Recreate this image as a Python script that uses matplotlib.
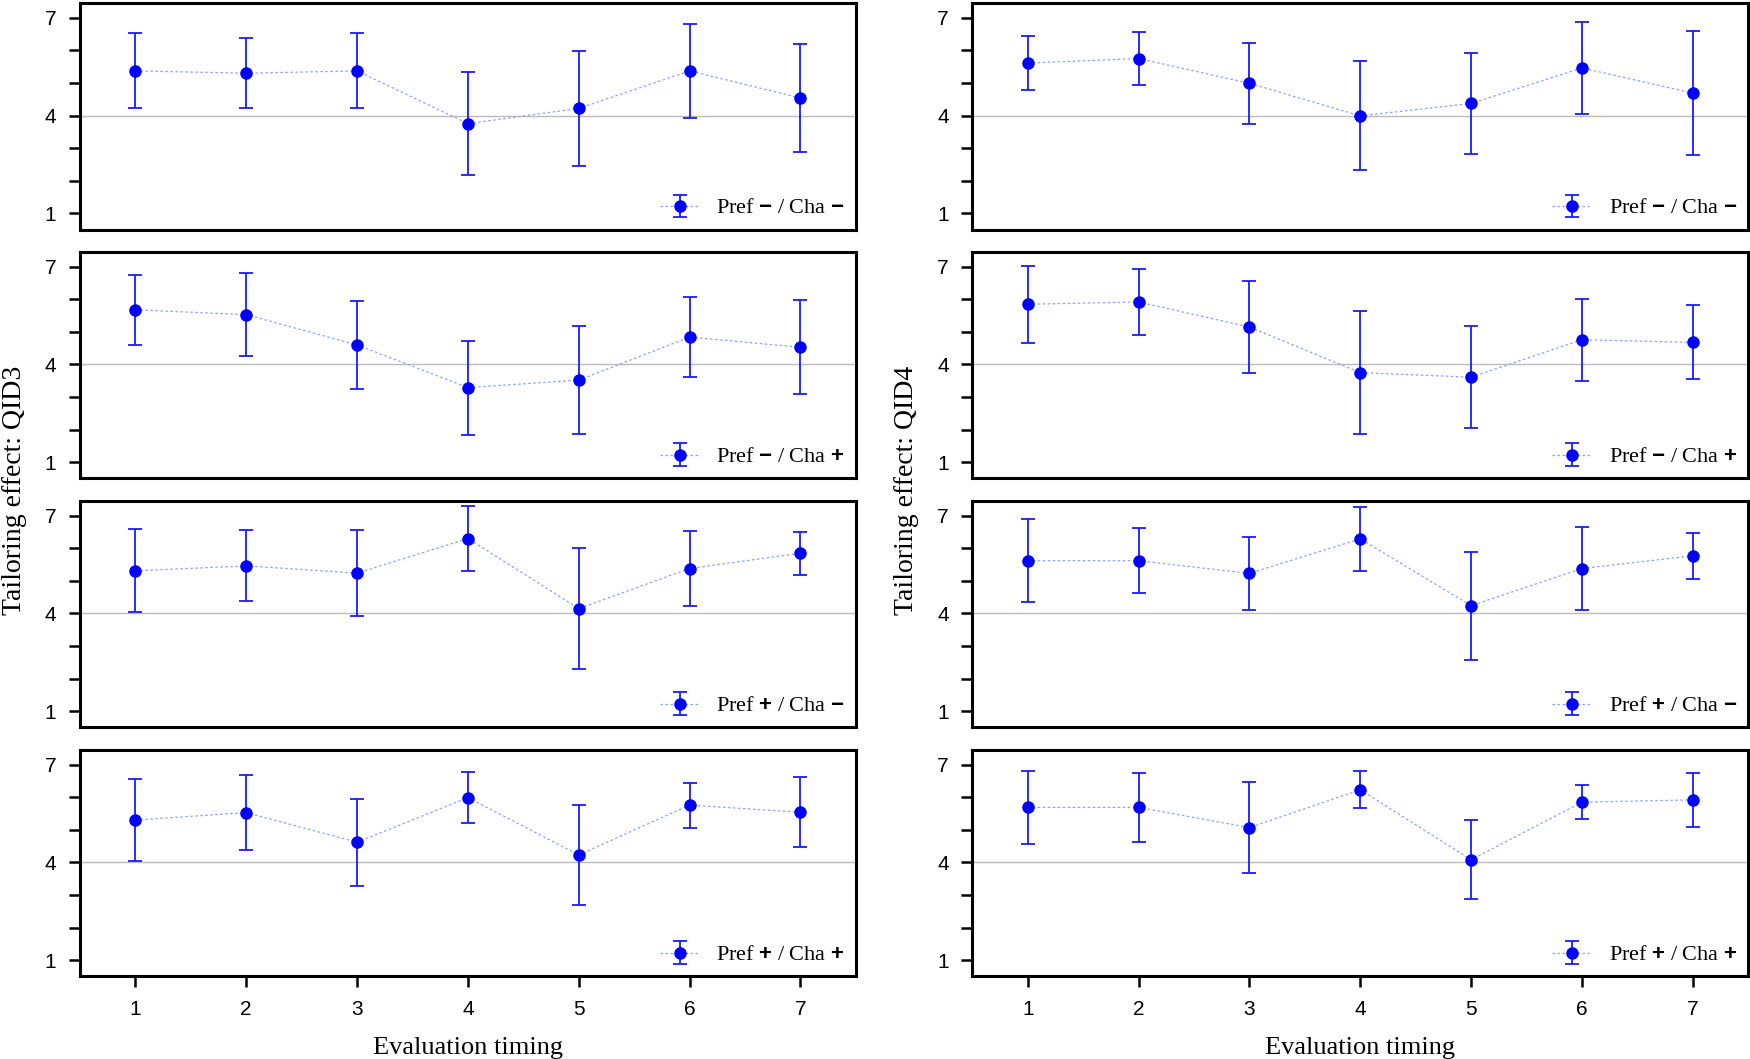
import numpy as np
import matplotlib.pyplot as plt

plt.rcParams['font.family'] = 'Liberation Sans'
plt.rcParams['mathtext.fontset'] = 'custom'
plt.rcParams['mathtext.bf'] = 'Liberation Sans:bold'

timing = [1, 2, 3, 4, 5, 6, 7]

# condition labels (Pref / Cha sign)
cond_labels = [r'Pref $\mathbf{-}$ / Cha $\mathbf{-}$',
               r'Pref $\mathbf{-}$ / Cha $\mathbf{+}$',
               r'Pref $\mathbf{+}$ / Cha $\mathbf{-}$',
               r'Pref $\mathbf{+}$ / Cha $\mathbf{+}$']

# QID3 means and error half-widths
q3_nn_mean = [5.37, 5.30, 5.37, 3.75, 4.22, 5.37, 4.54]
q3_nn_err = [1.15, 1.07, 1.15, 1.58, 1.76, 1.44, 1.65]
q3_np_mean = [5.68, 5.53, 4.60, 3.29, 3.52, 4.84, 4.53]
q3_np_err = [1.07, 1.28, 1.34, 1.44, 1.65, 1.23, 1.45]
q3_pn_mean = [5.31, 5.46, 5.24, 6.30, 4.15, 5.38, 5.85]
q3_pn_err = [1.27, 1.09, 1.32, 1.00, 1.85, 1.15, 0.66]
q3_pp_mean = [5.30, 5.53, 4.62, 5.99, 4.23, 5.76, 5.54]
q3_pp_err = [1.27, 1.16, 1.34, 0.79, 1.53, 0.69, 1.08]

# QID4 means and error half-widths
q4_nn_mean = [5.61, 5.75, 4.99, 3.99, 4.37, 5.46, 4.69]
q4_nn_err = [0.84, 0.80, 1.25, 1.67, 1.55, 1.40, 1.91]
q4_np_mean = [5.85, 5.92, 5.15, 3.75, 3.61, 4.76, 4.68]
q4_np_err = [1.18, 1.00, 1.41, 1.89, 1.56, 1.26, 1.14]
q4_pn_mean = [5.62, 5.62, 5.23, 6.29, 4.24, 5.38, 5.77]
q4_pn_err = [1.27, 1.00, 1.12, 0.99, 1.66, 1.27, 0.70]
q4_pp_mean = [5.69, 5.69, 5.07, 6.23, 4.08, 5.85, 5.92]
q4_pp_err = [1.13, 1.07, 1.39, 0.57, 1.21, 0.53, 0.83]

cols = [
    ([q3_nn_mean, q3_np_mean, q3_pn_mean, q3_pp_mean],
     [q3_nn_err, q3_np_err, q3_pn_err, q3_pp_err], 'Tailoring effect: QID3'),
    ([q4_nn_mean, q4_np_mean, q4_pn_mean, q4_pp_mean],
     [q4_nn_err, q4_np_err, q4_pn_err, q4_pp_err], 'Tailoring effect: QID4'),
]

fig, axes = plt.subplots(4, 2, figsize=(17.5, 10.59), dpi=100, sharex=True)
fig.subplots_adjust(left=0.0457, right=0.999, top=0.997, bottom=0.078,
                    hspace=0.10, wspace=0.15)

for c, (means, errs, ylab) in enumerate(cols):
    for r in range(4):
        ax = axes[r, c]
        ax.axhline(4, color='#bbbbbb', lw=1.0, zorder=1)
        ax.errorbar(timing, means[r], yerr=errs[r], fmt='o', ls=(0, (2, 2)),
                    lw=0.9, color='#8aa2ff', mfc='blue', mec='blue', ms=8,
                    ecolor='#1a1aff', elinewidth=1.3, capsize=5, capthick=1.3,
                    label=cond_labels[r], zorder=3)
        ax.set_xlim(0.5, 7.5)
        ax.set_ylim(0.5, 7.45)
        ax.set_yticks([1, 4, 7])
        ax.set_yticks([2, 3, 5, 6], minor=True)
        ax.set_xticks(timing)
        ax.tick_params(which='both', direction='out', length=8, width=1.8,
                       labelsize=15, pad=9)
        if r < 3:
            ax.tick_params(axis='x', which='both', bottom=False, labelbottom=False)
        else:
            ax.set_xlabel('Evaluation timing', fontsize=19,
                          fontfamily='Liberation Serif', labelpad=13)
        for s in ax.spines.values():
            s.set_linewidth(2.2)
        ax.legend(loc='lower right', frameon=False, borderaxespad=0.1,
                  handlelength=1.8, handletextpad=0.75,
                  prop={'family': 'Liberation Serif', 'size': 16})

    # one y label per column
    pos = axes[0, c].get_position()
    fig.text(pos.x0 - 0.0375, 0.537, ylab, rotation=90, va='center', ha='center',
             fontsize=20, fontfamily='Liberation Serif')

plt.savefig('out.png')
